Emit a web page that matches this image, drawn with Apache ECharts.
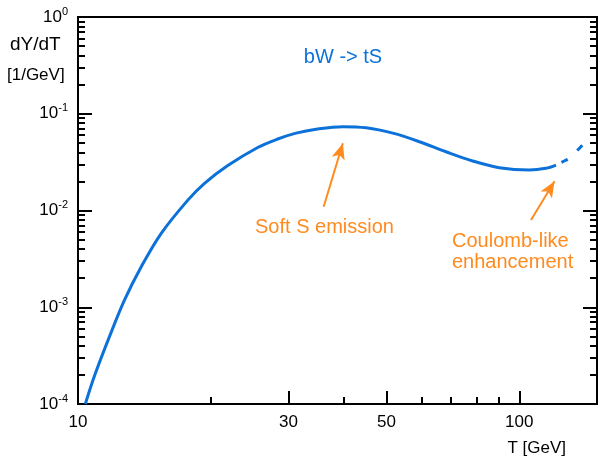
<!DOCTYPE html>
<html>
<head>
<meta charset="utf-8">
<script src="https://cdn.jsdelivr.net/npm/echarts@6/dist/echarts.min.js"></script>
<style>html,body{margin:0;padding:0;background:#fff}#c{width:600px;height:459px}</style>
</head>
<body>
<div id="c"></div>
<script>
// Data
var tSolid = [10.39, 10.91, 11.79, 12.75, 13.91, 15.44, 17.74, 19.35, 21.85, 25.54, 28.35, 31.19, 35.2, 39.8, 45.0, 51.7, 59.4, 68.2, 78.4, 90.1, 105.3, 114.9, 121.1];
var ySolid = [1.0e-4, 1.98e-4, 5.0e-4, 1.19e-3, 2.62e-3, 5.81e-3, 1.28e-2, 1.91e-2, 2.91e-2, 4.48e-2, 5.48e-2, 6.30e-2, 0.0700, 0.0735, 0.0716, 0.0630, 0.0514, 0.0405, 0.0325, 0.0277, 0.0262, 0.0273, 0.0295];
var tDashed = [121.1, 126.4, 129.8, 139.0];
var yDashed = [0.0295, 0.0325, 0.0346, 0.0475];
var xLabelTicks = [10, 30, 50, 100];
var xMinorTicks = [20, 40, 60, 70, 80, 90];
var yMajorTicks = [1e-4, 1e-3, 1e-2, 1e-1, 1];
var yMinorTicks = [];
[1e-4, 1e-3, 1e-2, 1e-1].forEach(function (d) { for (var k = 2; k <= 9; k++) yMinorTicks.push(+(k * d).toPrecision(3)); });
var softArrow = [[36.03, 0.01094], [39.83, 0.0495]];
var coulombArrow = [[106.3, 0.00797], [120.2, 0.02004]];
var titleText = 'bW -> tS';
var softText = 'Soft S emission';
var coulombText = 'Coulomb-like\nenhancement';

var BLUE = '#0c72d9', ORANGE = '#ff8a1e';
var FONT = '"Liberation Sans", Arial, Helvetica, sans-serif';
function zip(a, b) { return a.map(function (v, i) { return [v, b[i]]; }); }

var chart = echarts.init(document.getElementById('c'), null, { renderer: 'canvas' });
var lineAx = { show: true, lineStyle: { color: '#000', width: 2 } };
function xAx(extra) {
  return Object.assign({ type: 'log', logBase: 10, min: 10, max: 150, splitLine: { show: false }, axisLine: lineAx, axisLabel: { show: false }, axisTick: { show: false } }, extra);
}
function yAx(extra) {
  return Object.assign({ type: 'log', logBase: 10, min: 1e-4, max: 1, splitLine: { show: false }, axisLine: lineAx, axisLabel: { show: false }, axisTick: { show: false } }, extra);
}
var option = {
  animation: false,
  grid: { left: 78, right: 3, top: 17, bottom: 55 },
  xAxis: [
    xAx({ position: 'bottom', axisTick: { show: true, inside: true, length: 13, lineStyle: { width: 2, color: '#000' }, customValues: xLabelTicks },
      axisLabel: { show: true, customValues: xLabelTicks, color: '#000', fontSize: 17, fontFamily: FONT, margin: 10, formatter: function (v) { return String(Math.round(v)); } } }),
    xAx({ position: 'bottom', axisTick: { show: true, inside: true, length: 7, lineStyle: { width: 2, color: '#000' }, customValues: xMinorTicks } }),
    xAx({ position: 'top' })
  ],
  yAxis: [
    yAx({ position: 'left', axisTick: { show: true, inside: true, length: 14, lineStyle: { width: 2, color: '#000' }, customValues: yMajorTicks },
      axisLabel: { show: true, customValues: yMajorTicks, color: '#000', fontSize: 17, fontFamily: FONT, margin: 10, lineHeight: 22,
        formatter: function (v) { return '10{s|' + Math.round(Math.log10(v)) + '}'; },
        rich: { s: { fontSize: 11, fontFamily: FONT, color: '#000', verticalAlign: 'top', lineHeight: 12 } } } }),
    yAx({ position: 'left', axisTick: { show: true, inside: true, length: 7, lineStyle: { width: 2, color: '#000' }, customValues: yMinorTicks } }),
    yAx({ position: 'right', axisTick: { show: true, inside: true, length: 14, lineStyle: { width: 2, color: '#000' }, customValues: yMajorTicks } }),
    yAx({ position: 'right', axisTick: { show: true, inside: true, length: 7, lineStyle: { width: 2, color: '#000' }, customValues: yMinorTicks } })
  ],
  series: [
    { type: 'line', xAxisIndex: 0, yAxisIndex: 0, data: zip(tSolid, ySolid), smooth: 0.35, showSymbol: false, symbol: 'none',
      lineStyle: { color: BLUE, width: 3 }, clip: true,
      markLine: { silent: true, symbol: ['none', 'arrow'], symbolSize: [10, 16], label: { show: false },
        lineStyle: { color: ORANGE, width: 2, type: 'solid' },
        data: [
          [{ coord: softArrow[0] }, { coord: softArrow[1] }],
          [{ coord: coulombArrow[0] }, { coord: coulombArrow[1] }]
        ] } },
    { type: 'line', xAxisIndex: 0, yAxisIndex: 0, data: zip(tDashed, yDashed), smooth: 0.35, showSymbol: false, symbol: 'none',
      lineStyle: { color: BLUE, width: 3, type: [7, 13], dashOffset: 14 } }
  ],
  graphic: [
    { type: 'text', style: { text: 'dY/dT', x: 10, y: 45, font: '19px ' + FONT, fill: '#000', textAlign: 'left', textVerticalAlign: 'middle', verticalAlign: 'middle' } },
    { type: 'text', style: { text: '[1/GeV]', x: 7, y: 75, font: '17px ' + FONT, fill: '#000', textAlign: 'left', textVerticalAlign: 'middle', verticalAlign: 'middle' } },
    { type: 'text', style: { text: titleText, x: 343, y: 57, font: '20px ' + FONT, fill: BLUE, textAlign: 'center', align: 'center', textVerticalAlign: 'middle', verticalAlign: 'middle' } },
    { type: 'text', style: { text: softText, x: 255, y: 227, font: '20px ' + FONT, fill: ORANGE, textAlign: 'left', textVerticalAlign: 'middle', verticalAlign: 'middle' } },
    { type: 'text', style: { text: coulombText, x: 452, y: 252, font: '20px ' + FONT, lineHeight: 21, fill: ORANGE, textAlign: 'left', textVerticalAlign: 'middle', verticalAlign: 'middle' } },
    { type: 'text', style: { text: 'T [GeV]', x: 566, y: 448, font: '17px ' + FONT, fill: '#000', textAlign: 'right', align: 'right', textVerticalAlign: 'middle', verticalAlign: 'middle' } }
  ]
};
chart.setOption(option);
</script>
</body>
</html>
